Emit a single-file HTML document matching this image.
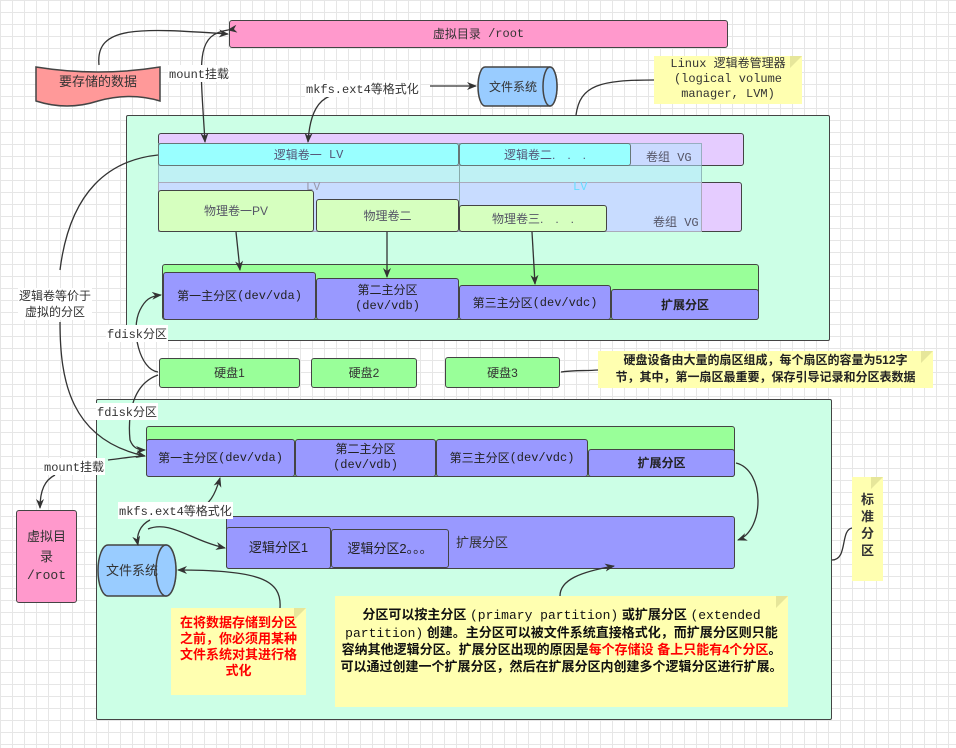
<!DOCTYPE html>
<html><head><meta charset="utf-8"><style>
*{margin:0;padding:0;box-sizing:border-box}
body{width:956px;height:748px;position:relative;overflow:hidden;background-color:#fff;
background-image:linear-gradient(#e6e6e6 1px,transparent 1px),linear-gradient(90deg,#e6e6e6 1px,transparent 1px);background-size:12px 12px;
font-family:"Liberation Sans","Noto Sans CJK SC",sans-serif;font-size:12px;color:#333}
.b{position:absolute;border:1.5px solid #444;border-radius:3px;display:flex;align-items:center;justify-content:center;text-align:center;line-height:1.5}
.t{position:absolute;white-space:nowrap;background:#fff;font-family:"Liberation Mono","Noto Sans CJK SC",monospace;font-size:12px;padding:0 1px}
.n{position:absolute;background:#ffffb0;line-height:1.4}
.m{font-family:"Liberation Mono","Noto Sans CJK SC",monospace}
.fold{position:absolute;right:0;top:0;width:0;height:0;border-left:12px solid #e6e69a;border-bottom:12px solid transparent}
</style></head><body>

<div class="b" style="left:229px;top:20px;width:499px;height:28px;background:#ff99cc">虚拟目录 <span class="m">&nbsp;/root</span></div>
<div class="b" style="left:16px;top:510px;width:61px;height:93px;background:#ff99cc;font-size:13px;flex-direction:column">虚拟目<br>录<span class="m">/root</span></div>

<div class="b" style="left:126px;top:115px;width:704px;height:226px;background:#ccffe6;border-radius:2px"></div>
<div class="b" style="left:158px;top:133px;width:586px;height:33px;background:#e5ccff"></div>
<div class="b" style="left:158px;top:182px;width:584px;height:50px;background:#e5ccff"></div>
<div style="position:absolute;left:158px;top:143px;width:544px;height:89px;background:rgba(180,230,255,0.55);border:1.5px solid rgba(100,130,130,.5)"></div>
<div style="position:absolute;left:158px;top:182px;width:544px;height:50px;background:#c8dcff;border:1px solid #aab"></div>
<div style="position:absolute;left:459px;top:143px;width:1px;height:89px;background:#8aa"></div>
<div class="b" style="left:158px;top:143px;width:301px;height:23px;background:#99ffff;color:#557;border-color:#677">逻辑卷一 <span class="m">&nbsp;LV</span></div>
<div class="b" style="left:459px;top:143px;width:172px;height:23px;background:#99ffff;color:#557;border-color:#677">逻辑卷二.　.　.</div>
<div class="t" style="left:645px;top:148px;background:none;color:#556">卷组 VG</div>
<div class="t" style="left:305px;top:180px;background:none;color:#99a">LV</div>
<div class="t" style="left:572px;top:180px;background:none;color:#66ddff">LV</div>
<div class="t" style="left:652px;top:213px;background:none;color:#556">卷组 VG</div>
<div class="b" style="left:158px;top:190px;width:156px;height:42px;background:#d6ffbf;color:#556">物理卷一PV</div>
<div class="b" style="left:316px;top:199px;width:143px;height:33px;background:#d6ffbf;color:#556">物理卷二</div>
<div class="b" style="left:459px;top:205px;width:148px;height:27px;background:#d6ffbf;color:#556">物理卷三.　.　.</div>

<div class="b" style="left:162px;top:264px;width:597px;height:56px;background:#99ff99"></div>
<div class="b" style="left:163px;top:272px;width:153px;height:48px;background:#9999ff;color:#222">第一主分区<span class="m">(dev/vda)</span></div>
<div class="b" style="left:316px;top:278px;width:143px;height:42px;background:#9999ff;color:#222;flex-direction:column;line-height:1.3">第二主分区<span class="m">(dev/vdb)</span></div>
<div class="b" style="left:459px;top:285px;width:152px;height:35px;background:#9999ff;color:#222">第三主分区<span class="m">(dev/vdc)</span></div>
<div class="b" style="left:611px;top:289px;width:148px;height:31px;background:#9999ff;color:#222;font-weight:bold">扩展分区</div>

<div class="b" style="left:159px;top:358px;width:141px;height:30px;background:#99ff99">硬盘1</div>
<div class="b" style="left:311px;top:358px;width:106px;height:30px;background:#99ff99">硬盘2</div>
<div class="b" style="left:445px;top:357px;width:115px;height:31px;background:#99ff99">硬盘3</div>
<div class="n" style="left:598px;top:351px;width:335px;height:37px;text-align:center;padding-top:1px;color:#222;font-weight:bold">硬盘设备由大量的扇区组成，每个扇区的容量为512字<br>节，其中，第一扇区最重要，保存引导记录和分区表数据<div class="fold"></div></div>

<div class="b" style="left:96px;top:399px;width:736px;height:321px;background:#ccffe6;border-radius:2px"></div>
<div class="b" style="left:146px;top:426px;width:589px;height:51px;background:#99ff99"></div>
<div class="b" style="left:146px;top:439px;width:149px;height:38px;background:#9999ff;color:#222">第一主分区<span class="m">(dev/vda)</span></div>
<div class="b" style="left:295px;top:439px;width:141px;height:38px;background:#9999ff;color:#222;flex-direction:column;line-height:1.3">第二主分区<span class="m">(dev/vdb)</span></div>
<div class="b" style="left:436px;top:439px;width:152px;height:38px;background:#9999ff;color:#222">第三主分区<span class="m">(dev/vdc)</span></div>
<div class="b" style="left:588px;top:449px;width:147px;height:28px;background:#9999ff;color:#222;font-weight:bold">扩展分区</div>
<div class="b" style="left:226px;top:516px;width:509px;height:53px;background:#9999ff"></div>
<div class="t" style="left:455px;top:532px;background:none;font-family:'Liberation Sans','Noto Sans CJK SC',sans-serif;font-size:13px">扩展分区</div>
<div class="b" style="left:226px;top:527px;width:105px;height:42px;background:#9999ff;color:#222;font-size:13px">逻辑分区1</div>
<div class="b" style="left:331px;top:529px;width:118px;height:39px;background:#9999ff;color:#222;font-size:13px">逻辑分区2。。。</div>

<div class="n" style="left:171px;top:608px;width:135px;height:87px;color:#ff0000;text-align:center;padding-top:7px;font-size:13px;font-weight:bold;line-height:16px">在将数据存储到分区<br>之前，你必须用某种<br>文件系统对其进行格<br>式化<div class="fold"></div></div>
<div class="n" style="left:335px;top:596px;width:453px;height:111px;text-align:center;padding:11px 5px 0;color:#111;font-size:13px;line-height:16.5px;font-weight:bold">分区可以按主分区 <span class="m" style="font-weight:normal">(primary partition)</span> 或扩展分区 <span class="m" style="font-weight:normal">(extended partition)</span> 创建。主分区可以被文件系统直接格式化，而扩展分区则只能容纳其他逻辑分区。扩展分区出现的原因是<span style="color:#f00">每个存储设 备上只能有4个分区</span>。可以通过创建一个扩展分区，然后在扩展分区内创建多个逻辑分区进行扩展。<div class="fold"></div></div>
<div class="n" style="left:852px;top:477px;width:31px;height:104px;text-align:center;padding-top:14px;font-size:13px;line-height:17px;font-weight:bold">标<br>准<br>分<br>区<div class="fold"></div></div>
<div class="n m" style="left:654px;top:56px;width:148px;height:48px;text-align:center;padding-top:1px;line-height:15px">Linux 逻辑卷管理器<br>(logical volume<br>manager, LVM)<div class="fold"></div></div>

<svg style="position:absolute;left:0;top:0" width="956" height="748">
<defs><marker id="a" markerWidth="10" markerHeight="8" refX="9" refY="4" orient="auto" markerUnits="userSpaceOnUse"><path d="M0,0 L10,4 L0,8 L3,4z" fill="#333"/></marker></defs>
<path d="M36,67 Q98,77 160,67 L160,101 Q130,92 98,101 Q67,111 36,101Z" fill="#ff9999" stroke="#444" stroke-width="1.5"/>
<g stroke="#444" stroke-width="1.5" fill="#99ccff">
<path d="M485,67 L550,67 A7,19.5 0 0 1 550,106 L485,106 A7,19.5 0 0 1 485,67Z"/>
<ellipse cx="550" cy="86.5" rx="7" ry="19.5"/>
<path d="M108,545 L166,545 A10,25.5 0 0 1 166,596 L108,596 A10,25.5 0 0 1 108,545Z"/>
<ellipse cx="166" cy="570.5" rx="10" ry="25.5"/>
</g>
<g fill="none" stroke="#333" stroke-width="1.3">
<path d="M99,65 C95,25 140,28 228,34" marker-end="url(#a)"/>
<path d="M228,30 C195,35 200,60 205,142" marker-end="url(#a)" marker-start="url(#a)"/>
<path d="M330,96 C320,100 310,110 308,142" marker-end="url(#a)"/>
<path d="M430,86 L476,86" marker-end="url(#a)"/>
<path d="M576,115 C580,85 600,80 654,80"/>
<path d="M236,232 L240,270" marker-end="url(#a)"/>
<path d="M387,232 L387,277" marker-end="url(#a)"/>
<path d="M532,232 L535,284" marker-end="url(#a)"/>
<path d="M158,155 C110,160 70,190 60,270"/>
<path d="M60,322 C60,380 70,440 145,456" marker-end="url(#a)"/>
<path d="M158,372 C140,370 130,330 140,310 C145,300 150,296 161,295" marker-end="url(#a)"/>
<path d="M158,375 C130,385 128,420 130,440 C133,448 138,450 145,450" marker-end="url(#a)"/>
<path d="M108,460 C125,458 135,456 145,456"/>
<path d="M55,475 C45,480 40,490 40,508" marker-end="url(#a)"/>
<path d="M195,511 C210,505 215,495 220,478" marker-end="url(#a)"/>
<path d="M150,520 C140,525 136,535 138,545" marker-end="url(#a)"/>
<path d="M148,529 C170,520 190,540 225,548" marker-end="url(#a)"/>
<path d="M280,608 C282,580 260,570 178,570" marker-end="url(#a)"/>
<path d="M561,372 C575,370 585,371 598,370"/>
<path d="M736,463 C765,470 765,530 738,540" marker-end="url(#a)"/>
<path d="M560,596 C560,580 580,572 614,566" marker-end="url(#a)"/>
<path d="M832,560 C848,560 840,530 852,528"/>
</g>
</svg>
<div class="b" style="left:36px;top:67px;width:124px;height:30px;border:none;font-size:13px">要存储的数据</div>
<div class="b" style="left:477px;top:67px;width:72px;height:39px;border:none">文件系统</div>
<div class="b" style="left:98px;top:545px;width:68px;height:51px;border:none;font-size:13px">文件系统</div>

<div class="t" style="left:168px;top:65px">mount挂载</div>
<div class="t" style="left:305px;top:80px">mkfs.ext4等格式化</div>
<div class="t" style="left:18px;top:288px;font-family:'Liberation Sans','Noto Sans CJK SC',sans-serif;text-align:center;line-height:16px">逻辑卷等价于<br>虚拟的分区</div>
<div class="t" style="left:106px;top:325px">fdisk分区</div>
<div class="t" style="left:96px;top:403px">fdisk分区</div>
<div class="t" style="left:43px;top:458px">mount挂载</div>
<div class="t" style="left:118px;top:502px">mkfs.ext4等格式化</div>
</body></html>
